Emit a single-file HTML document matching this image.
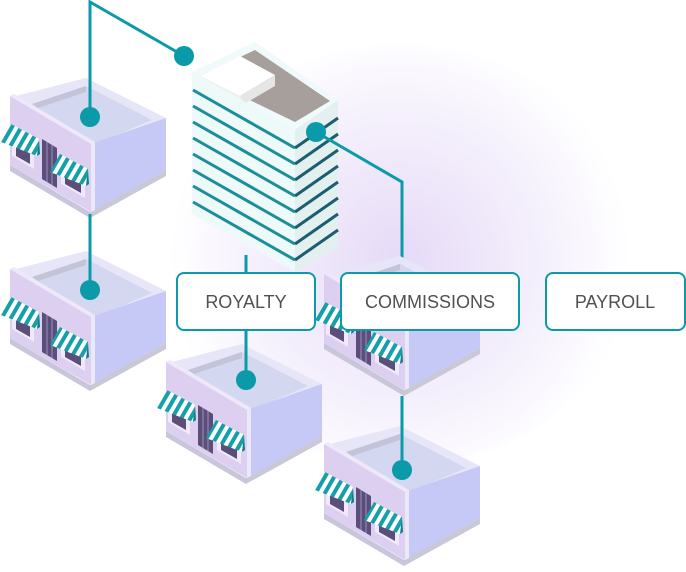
<!DOCTYPE html>
<html><head><meta charset="utf-8"><style>
html,body{margin:0;padding:0;background:#fff;}
svg{display:block}
.lbl{font-family:"Liberation Sans",sans-serif;font-size:18px;fill:#505050;}
</style></head><body>
<svg width="686" height="572" viewBox="0 0 686 572" xmlns="http://www.w3.org/2000/svg">
<defs>
<radialGradient id="glow" cx="400" cy="260" r="230" gradientUnits="userSpaceOnUse">
<stop offset="0" stop-color="#e6daf7"/><stop offset="0.6" stop-color="#f4effc"/><stop offset="1" stop-color="#ffffff"/>
</radialGradient>
<pattern id="stripe" width="8" height="8" patternUnits="userSpaceOnUse" patternTransform="rotate(30)">
<rect width="8" height="8" fill="#ffffff"/><rect width="4" height="8" fill="#14a0a8"/>
</pattern>
<g id="store">
<polygon points="-80,-47 0,0 0,6 -80,-41" fill="#c9c6dc"/>
<polygon points="0,0 76,-42 76,-36 0,6" fill="#c9c9d6"/>
<polygon points="-78,-115 -4,-134 76,-94 1,-67" fill="#e6e6f8"/>
<polygon points="-58,-108 -4,-126 62,-92 1,-66" fill="#d3d7ef"/>
<polygon points="-58,-108 -4,-126 -4,-120 -52,-104" fill="#c4c4d8"/>
<polygon points="-80,-116 1,-68 1,0 -80,-47" fill="#dccff0"/>
<polygon points="-80,-116 -76,-118 5,-70 1,-68" fill="#eee8fa"/>
<polygon points="1,-68 76,-94 76,-42 1,0" fill="#c6c8f6"/>
<polygon points="1,-68 5,-70 5,-2 1,0" fill="#ebe8fb"/>
<polygon points="-48,-73 -33,-64 -33,-24 -48,-33" fill="#5b4f7a"/>
<line x1="-43" y1="-70" x2="-43" y2="-30" stroke="#9a8fc0" stroke-width="1"/>
<line x1="-38" y1="-67" x2="-38" y2="-27" stroke="#9a8fc0" stroke-width="1"/>
<polygon points="-78,-72 -56,-59 -56,-43 -78,-56" fill="#efe9fa"/>
<polygon points="-74,-67 -60,-59 -60,-48 -74,-56" fill="#5b4f7a"/>
<polygon points="-29,-44 -5,-30 -5,-14 -29,-28" fill="#efe9fa"/>
<polygon points="-25,-39 -9,-30 -9,-19 -25,-28" fill="#5b4f7a"/>
<polygon points="-79,-88 -51,-73 -53,-56 -89,-70" fill="url(#stripe)"/>
<polygon points="-51,-73 -53,-56 -50,-58" fill="#0f7f86"/>
<polygon points="-30,-58 -2,-43 -4,-26 -40,-40" fill="url(#stripe)"/>
<polygon points="-2,-43 -4,-26 -1,-28" fill="#0f7f86"/>
</g>
<g id="dot"><circle r="10" fill="#0a9aa8"/></g>
</defs>
<rect width="686" height="572" fill="#fff"/>
<ellipse cx="400" cy="255" rx="240" ry="210" fill="url(#glow)"/>

<g stroke="#0a9aa8" stroke-width="3" fill="none">
<polyline points="402,182 402,273"/>
</g>

<use href="#store" x="90" y="212"/>
<use href="#store" x="90" y="385"/>
<use href="#store" x="404" y="390"/>
<use href="#store" x="246" y="478"/>
<use href="#store" x="404" y="560"/>

<g>
<polygon points="192,72 255,42 338,100 295,130" fill="#f1fafb"/>
<polygon points="200,76 255,50 330,101 295,122" fill="#a79f9b"/>
<polygon points="200,76 240,56 275,75 240,96" fill="#ffffff"/>
<polygon points="240,96 275,75 275,86 244,104" fill="#e6e6e6"/>
<polygon points="200,76 240,96 244,104 202,84" fill="#f0f0f0"/>
<polygon points="192,72 295,130 295,272 192,214" fill="#eef9fa"/>
<polygon points="295,130 338,100 338,248 295,272" fill="#e4eff0"/>
<g stroke="#1a8e99" stroke-width="3">
<line x1="193" y1="90" x2="295" y2="148"/>
<line x1="193" y1="106" x2="295" y2="164"/>
<line x1="193" y1="122" x2="295" y2="180"/>
<line x1="193" y1="138" x2="295" y2="196"/>
<line x1="193" y1="154" x2="295" y2="212"/>
<line x1="193" y1="170" x2="295" y2="228"/>
<line x1="193" y1="186" x2="295" y2="244"/>
<line x1="193" y1="202" x2="295" y2="260"/>
</g>
<g stroke="#1c5e70" stroke-width="3">
<line x1="295" y1="148" x2="338" y2="118"/>
<line x1="295" y1="164" x2="338" y2="134"/>
<line x1="295" y1="180" x2="338" y2="150"/>
<line x1="295" y1="196" x2="338" y2="166"/>
<line x1="295" y1="212" x2="338" y2="182"/>
<line x1="295" y1="228" x2="338" y2="198"/>
<line x1="295" y1="244" x2="338" y2="214"/>
<line x1="295" y1="260" x2="338" y2="230"/>
</g>
</g>

<g stroke="#0a9aa8" stroke-width="3" fill="none">
<polyline points="90,117 90,2 184,56"/>
<line x1="90" y1="214" x2="90" y2="290"/>
<polyline points="316,132 402,182 402,200"/>
<line x1="402" y1="396" x2="402" y2="470"/>
<line x1="246" y1="255" x2="246" y2="380"/>
</g>
<use href="#dot" x="184" y="56"/>
<use href="#dot" x="90" y="117"/>
<use href="#dot" x="90" y="290"/>
<use href="#dot" x="316" y="132"/>
<use href="#dot" x="246" y="380"/>
<use href="#dot" x="402" y="470"/>

<rect x="177" y="273" width="138" height="57" rx="7" fill="#fff" stroke="#0a9aa8" stroke-width="2"/>
<text class="lbl" x="246" y="308" text-anchor="middle">ROYALTY</text>
<rect x="341" y="273" width="178" height="57" rx="7" fill="#fff" stroke="#0a9aa8" stroke-width="2"/>
<text class="lbl" x="430" y="308" text-anchor="middle">COMMISSIONS</text>
<rect x="546" y="273" width="139" height="57" rx="7" fill="#fff" stroke="#0a9aa8" stroke-width="2"/>
<text class="lbl" x="615" y="308" text-anchor="middle">PAYROLL</text>
</svg>
</body></html>
